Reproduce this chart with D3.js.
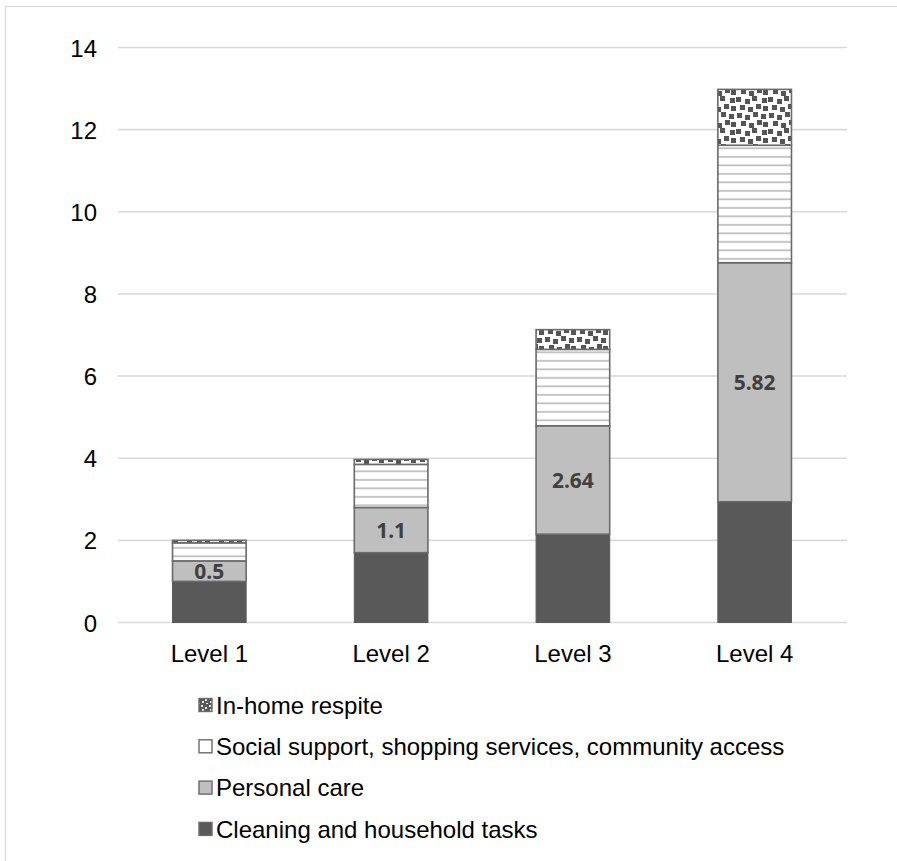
<!DOCTYPE html>
<html>
<head>
<meta charset="utf-8">
<script src="https://cdn.jsdelivr.net/npm/d3@7"></script>
<style>
  html, body { margin: 0; padding: 0; background: #fff; }
  svg { display: block; }
</style>
</head>
<body>
<svg id="chart" width="897" height="861"></svg>
<script>
// Hours per week of support by service type, for each care level
const categories = ["Level 1", "Level 2", "Level 3", "Level 4"];
const seriesNames = [
  "Cleaning and household tasks",
  "Personal care",
  "Social support, shopping services, community access",
  "In-home respite"
];
const cleaning = [1.0, 1.7, 2.15, 2.94];
const personalCare = [0.5, 1.1, 2.64, 5.82];
const socialSupport = [0.44, 1.05, 1.86, 2.86];
const respite = [0.06, 0.12, 0.48, 1.36];
const yTicks = [0, 2, 4, 6, 8, 10, 12, 14];

const FONT = "'Liberation Sans', Arial, sans-serif";
const svg = d3.select("#chart");
const W = 897, H = 861;
const margin = { left: 118, right: 51, top: 47.5, bottom: 238.5 };

// outer chart frame
svg.append("rect")
  .attr("x", 5.5).attr("y", 6.5)
  .attr("width", 1000).attr("height", 1000)
  .attr("fill", "#fff").attr("stroke", "#d9d9d9").attr("stroke-width", 1.2);

const defs = svg.append("defs");

// horizontal-line fill
const hl = defs.append("pattern")
  .attr("id", "hlines").attr("patternUnits", "userSpaceOnUse")
  .attr("width", 8).attr("height", 8.5);
hl.append("rect").attr("width", 8).attr("height", 8.5).attr("fill", "#fff");
hl.append("rect").attr("x", 0).attr("y", 3).attr("width", 8).attr("height", 1.7).attr("fill", "#bdbdbd");

// confetti fill: one square per 8px cell, jittered
const confettiDots = [
  [0, 1], [9, 3], [16, 0], [26, 2],
  [4, 9], [12, 11], [20, 8], [27, 10],
  [1, 17], [9, 19], [17, 16], [25, 18],
  [5, 25], [13, 27], [21, 24], [27, 26]
];
const cf = defs.append("pattern")
  .attr("id", "confetti").attr("patternUnits", "userSpaceOnUse")
  .attr("width", 32).attr("height", 32);
cf.append("rect").attr("width", 32).attr("height", 32).attr("fill", "#fff");
cf.selectAll("rect.d").data(confettiDots).join("rect")
  .attr("class", "d")
  .attr("x", d => d[0]).attr("y", d => d[1])
  .attr("width", 5).attr("height", 5).attr("fill", "#555555");

// small inverse confetti for the legend key
const cfs = defs.append("pattern")
  .attr("id", "confettiKey").attr("patternUnits", "userSpaceOnUse")
  .attr("width", 8).attr("height", 8);
cfs.append("rect").attr("width", 8).attr("height", 8).attr("fill", "#595959");
[[1, 1], [5, 3], [2, 5], [6, 7]].forEach(p =>
  cfs.append("rect").attr("x", p[0]).attr("y", p[1]).attr("width", 2).attr("height", 2).attr("fill", "#e6e6e6"));

const fills = ["#595959", "#bfbfbf", "url(#hlines)", "url(#confetti)"];
const keyFills = ["#595959", "#bfbfbf", "#ffffff", "url(#confettiKey)"];

const x = d3.scaleBand()
  .domain(categories)
  .range([margin.left, W - margin.right])
  .paddingInner(0.595)
  .paddingOuter(0.3);

const y = d3.scaleLinear()
  .domain([0, 14])
  .range([H - margin.bottom, margin.top]);

// gridlines
svg.append("g").selectAll("line").data(yTicks).join("line")
  .attr("x1", margin.left).attr("x2", W - margin.right + 1)
  .attr("y1", d => y(d)).attr("y2", d => y(d))
  .attr("stroke", "#d9d9d9").attr("stroke-width", 1.6);

// y axis labels
const yAxis = d3.axisLeft(y).tickValues(yTicks).tickSize(0).tickPadding(0);
const ya = svg.append("g").attr("transform", "translate(97,0)").call(yAxis);
ya.select(".domain").remove();
ya.selectAll("text")
  .attr("font-family", FONT)
  .attr("font-size", 24).attr("fill", "#000")
  .attr("dy", "0.36em");

// x axis labels
const xAxis = d3.axisBottom(x).tickSize(0).tickPadding(0);
const xa = svg.append("g").attr("transform", `translate(0,${y(0) + 23})`).call(xAxis);
xa.select(".domain").remove();
xa.selectAll("text")
  .attr("font-family", FONT)
  .attr("font-size", 24).attr("fill", "#000")
  .attr("dy", "0.7em");

// stacked bars
const rows = categories.map((c, i) => ({
  cat: c, s0: cleaning[i], s1: personalCare[i], s2: socialSupport[i], s3: respite[i]
}));
const stack = d3.stack().keys(["s0", "s1", "s2", "s3"]);
const layers = stack(rows);

const barG = svg.append("g");
layers.forEach((layer, li) => {
  barG.append("g").selectAll("rect").data(layer).join("rect")
    .attr("x", d => x(d.data.cat))
    .attr("width", x.bandwidth())
    .attr("y", d => y(d[1]))
    .attr("height", d => y(d[0]) - y(d[1]))
    .attr("fill", fills[li])
    .attr("stroke", li === 0 ? "#595959" : "#6a6a6a")
    .attr("stroke-width", li === 0 ? 1 : 1.6);
});

// value labels on personal care segments
barG.append("g").selectAll("text").data(layers[1]).join("text")
  .attr("x", d => x(d.data.cat) + x.bandwidth() / 2)
  .attr("y", d => (y(d[0]) + y(d[1])) / 2)
  .attr("dy", "0.36em")
  .attr("text-anchor", "middle")
  .attr("font-family", "'Noto Sans', sans-serif")
  .attr("font-weight", "bold")
  .attr("font-size", 21)
  .attr("fill", "#404040")
  .text(d => String(d.data.s1));

// legend, topmost series first
const legendOrder = [3, 2, 1, 0];
const lg = svg.append("g");
legendOrder.forEach((si, k) => {
  const cy = 705 + k * 41.3;
  lg.append("rect")
    .attr("x", 199).attr("y", cy - 6.5)
    .attr("width", 13).attr("height", 13)
    .attr("fill", keyFills[si])
    .attr("stroke", "#6a6a6a").attr("stroke-width", 1.4);
  lg.append("text")
    .attr("x", 216).attr("y", cy)
    .attr("dy", "0.36em")
    .attr("font-family", FONT)
    .attr("font-size", 24).attr("fill", "#000")
    .text(seriesNames[si]);
});
</script>
</body>
</html>
